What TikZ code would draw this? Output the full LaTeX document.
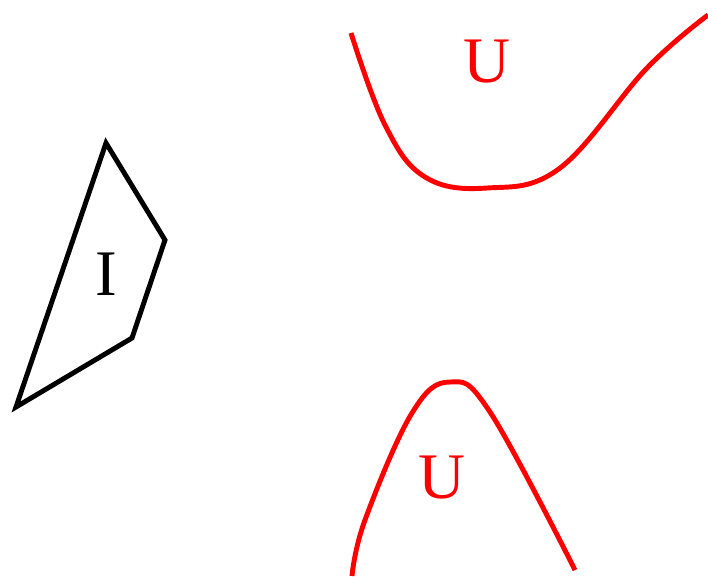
\documentclass[tikz,border=0pt]{standalone}
\usepackage{fontspec}
\setmainfont{Liberation Serif}
\usetikzlibrary{math}
\definecolor{myred}{RGB}{255,0,0}

\begin{document}
\begin{tikzpicture}[x=0.02cm,y=-0.02cm]
\tikzmath{
\lw=2.8;
\fs=37;
}
\useasboundingbox (0,0) rectangle (708,576);
%region I
\draw[line width=\lw pt, line join=miter] (106,143) -- (165,240) -- (132,338) -- (16,407) -- cycle;
\node (labI) at (106,274) {\fontsize{\fs}{\fs}\selectfont I};
%upper U
\draw[myred, line width=\lw pt] plot[smooth, tension=0.65] coordinates {(351,33) (385,125) (425,177) (487,188) (560,168) (647,68) (708,15)};
\node[myred] (labUa) at (487,62) {\fontsize{\fs}{\fs}\selectfont U};
%lower U
\draw[myred, line width=\lw pt] plot[smooth, tension=0.65] coordinates {(352,576) (365,520) (412,413) (450,382) (490,412) (575,570)};
\node[myred] (labUb) at (442,478) {\fontsize{\fs}{\fs}\selectfont U};
\end{tikzpicture}
\end{document}
